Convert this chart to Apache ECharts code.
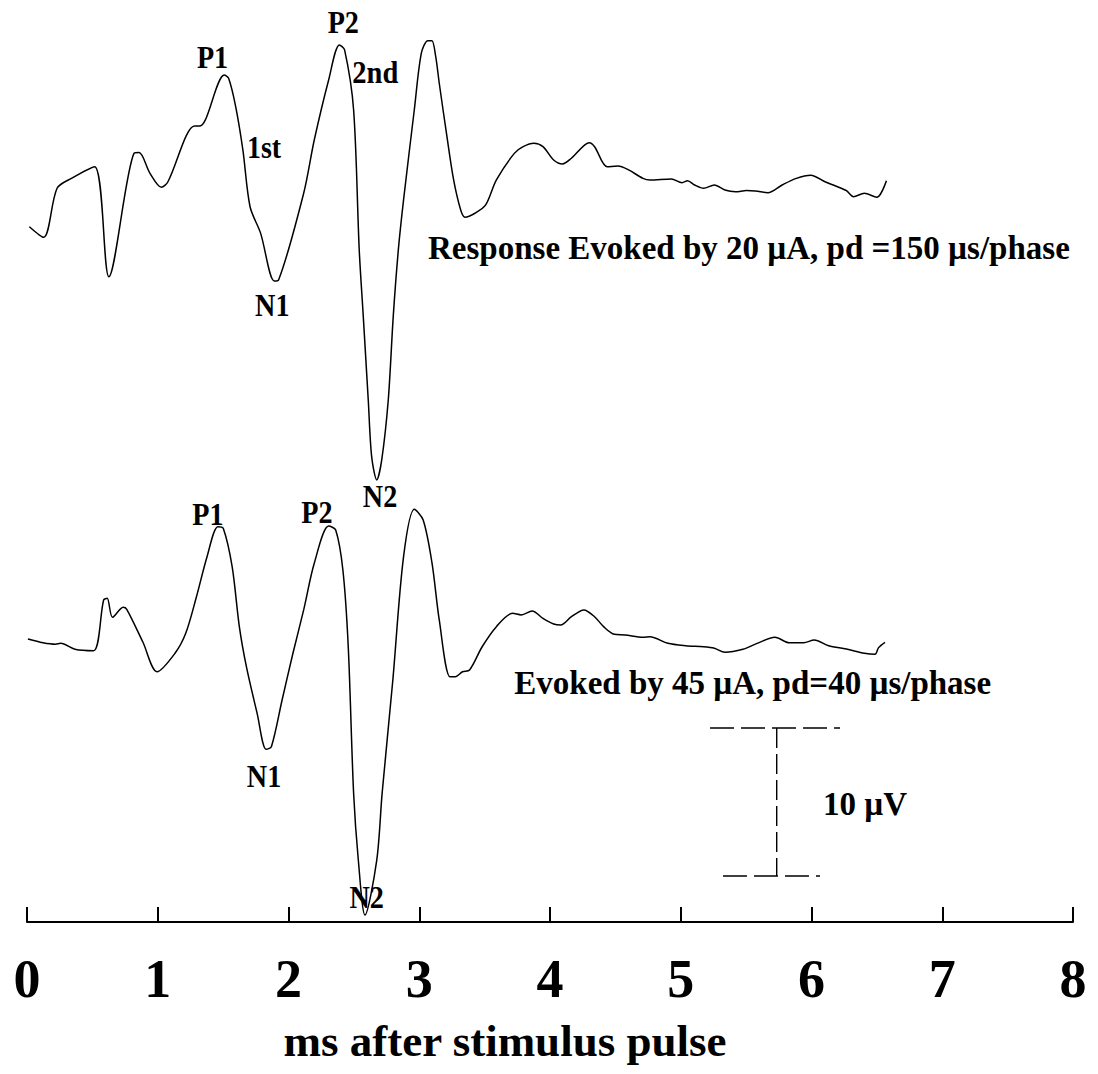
<!DOCTYPE html>
<html>
<head>
<meta charset="utf-8">
<script src="https://cdn.jsdelivr.net/npm/echarts@6/dist/echarts.min.js"></script>
<style>
html,body{margin:0;padding:0;background:#fff;}
#chart{width:1098px;height:1074px;}
</style>
</head>
<body>
<div id="chart"></div>
<script>
// ---- Data (time in ms, amplitude in µV above the time axis) ----
const xTicks = [0, 1, 2, 3, 4, 5, 6, 7, 8];
const xTitle = 'ms after stimulus pulse';

// Response evoked by 20 µA, pd = 150 µs/phase (upper trace)
const topTime = [0.018,0.127,0.230,0.340,0.517,0.626,0.818,0.857,0.941,1.028,1.078,1.282,1.323,1.364,1.509,1.542,1.596,1.651,1.706,1.787,1.891,1.924,2.116,2.197,2.307,2.389,2.429,2.498,2.541,2.572,2.610,2.636,2.675,2.713,2.763,2.801,2.840,2.880,2.962,3.016,3.066,3.097,3.126,3.153,3.208,3.263,3.317,3.350,3.426,3.508,3.590,3.727,3.795,3.877,3.946,4.028,4.096,4.164,4.301,4.341,4.437,4.519,4.601,4.711,4.765,4.928,5.010,5.052,5.106,5.175,5.257,5.338,5.420,5.502,5.571,5.667,5.775,5.884,5.994,6.103,6.185,6.267,6.322,6.404,6.499,6.573];
const topVolt = [47.01,46.29,49.61,50.28,51.07,43.63,51.97,52.02,50.62,49.68,50.05,53.82,53.82,54.23,57.27,57.04,55.13,52.20,48.36,46.56,43.34,43.41,49.27,52.87,56.93,59.30,58.96,54.90,45.44,40.93,35.29,31.46,29.89,31.24,35.29,40.93,45.44,48.82,54.90,58.74,59.59,59.59,58.51,56.71,53.33,50.17,48.14,47.65,47.92,48.48,50.17,51.97,52.42,52.65,52.42,51.52,51.25,51.64,52.69,52.42,51.07,51.11,50.85,50.28,50.17,50.24,49.99,50.12,49.83,49.61,49.83,49.49,49.38,49.45,49.43,49.31,49.83,50.28,50.49,50.05,49.76,49.45,49.04,49.27,49.00,50.12];

// Evoked by 45 µA, pd = 40 µs/phase (lower trace)
const botTime = [0.007,0.122,0.217,0.258,0.367,0.509,0.586,0.613,0.654,0.736,0.763,0.886,0.995,1.132,1.214,1.296,1.377,1.460,1.501,1.569,1.624,1.678,1.760,1.829,1.869,1.951,2.034,2.116,2.197,2.307,2.361,2.416,2.457,2.498,2.534,2.585,2.675,2.716,2.798,2.880,2.962,3.030,3.098,3.153,3.235,3.277,3.331,3.385,3.481,3.590,3.713,3.781,3.863,3.946,4.028,4.082,4.164,4.259,4.341,4.410,4.492,4.574,4.711,4.765,4.902,5.038,5.175,5.257,5.338,5.475,5.584,5.721,5.830,5.940,6.021,6.131,6.267,6.404,6.486,6.513,6.562];
const botVolt = [19.13,18.88,18.78,18.84,18.44,18.34,21.77,21.89,20.60,21.28,21.14,18.93,16.92,18.17,19.52,21.99,24.70,26.73,26.62,24.02,19.97,17.26,14.11,11.68,11.85,15.01,18.17,21.10,24.25,26.77,26.50,23.80,18.61,8.70,4.19,0.47,4.19,8.70,16.36,24.70,27.90,27.18,24.25,20.42,16.59,16.59,16.92,17.04,18.61,19.97,20.87,20.76,21.03,20.53,20.15,20.08,20.64,21.10,20.64,19.97,19.45,19.41,19.25,19.29,18.84,18.68,18.61,18.51,18.24,18.44,18.84,19.25,18.88,18.88,19.07,18.68,18.46,18.17,18.10,18.55,18.91];

// 10 µV calibration bar
const barTopY = 13.12, barBottomY = 3.11;
const barTopX = [5.224, 6.218];
const barBottomX = [5.323, 6.065];
const barX = 5.734;

// Annotation texts and their anchor points (ms, µV)
const labelTexts = ['P1','P2','2nd','1st','N1','N2','P1','P2','N1','N2',
  'Response Evoked by 20 \u00b5A, pd =150 \u00b5s/phase',
  'Evoked by 45 \u00b5A, pd=40 \u00b5s/phase',
  '10 \u00b5V'];
const labelX = [1.419,2.419,2.664,1.813,1.876,2.700,1.384,2.218,1.813,2.598,3.067,3.727,6.088];
const labelY = [58.45,60.82,57.44,52.37,41.72,28.77,27.59,27.69,9.84,1.66,45.57,16.16,7.98];

// ---- Styles ----
const SERIF = '"Liberation Serif","Times New Roman",serif';
const labelStyle = [
  {size:32,sx:0.88,align:'center'},{size:32,sx:0.88,align:'center'},
  {size:31,sx:0.92,align:'center'},{size:31,sx:0.9,align:'center'},
  {size:32,sx:0.88,align:'center'},{size:32,sx:0.88,align:'center'},
  {size:32,sx:0.88,align:'center'},{size:32,sx:0.88,align:'center'},
  {size:32,sx:0.88,align:'center'},{size:32,sx:0.88,align:'center'},
  {size:33,sx:1,align:'left'},{size:33,sx:1,align:'left'},{size:33,sx:1,align:'left'}
];

const zip = (a, b) => a.map((v, i) => [v, b[i]]);

const traceStyle = {color:'#000', width:1.5};
const dashStyle = {color:'#000', width:1.4, type:[24,7]};

const chart = echarts.init(document.getElementById('chart'), null, {renderer:'svg'});
chart.setOption({
  backgroundColor:'#fff',
  animation:false,
  grid:{left:27, right:25, top:5, bottom:152, containLabel:false},
  xAxis:{
    type:'value', min:xTicks[0], max:xTicks[xTicks.length-1], interval:1,
    axisLine:{show:true, lineStyle:{color:'#000', width:2}},
    axisTick:{show:true, inside:true, length:15, lineStyle:{color:'#000', width:2}},
    splitLine:{show:false},
    axisLabel:{show:true, showMinLabel:true, showMaxLabel:true, margin:30,
      fontSize:54, fontWeight:'bold', fontFamily:SERIF, color:'#000'},
    name:xTitle, nameLocation:'middle', nameGap:96,
    nameTextStyle:{fontSize:45, fontWeight:'bold', fontFamily:SERIF, color:'#000', padding:[0,90,0,0]}
  },
  yAxis:{type:'value', min:0, max:62, show:false},
  series:[
    {type:'line', data:zip(topTime, topVolt), symbol:'none', smooth:0.3, lineStyle:traceStyle, silent:true},
    {type:'line', data:zip(botTime, botVolt), symbol:'none', smooth:0.3, lineStyle:traceStyle, silent:true},
    {type:'line', data:[[barTopX[0], barTopY],[barTopX[1], barTopY]], symbol:'none', lineStyle:dashStyle, silent:true},
    {type:'line', data:[[barBottomX[0], barBottomY],[barBottomX[1], barBottomY]], symbol:'none', lineStyle:dashStyle, silent:true},
    {type:'line', data:[[barX, barTopY],[barX, barBottomY]], symbol:'none', lineStyle:{color:'#000', width:1.4, type:[20,6]}, silent:true}
  ]
});

const graphics = labelTexts.map((t, i) => {
  const p = chart.convertToPixel({gridIndex:0}, [labelX[i], labelY[i]]);
  const s = labelStyle[i];
  return {
    type:'text', x:p[0], y:p[1], scaleX:s.sx, silent:true,
    style:{text:t, fontSize:s.size, fontWeight:'bold', fontFamily:SERIF, fill:'#000',
      align:s.align, verticalAlign:'middle'}
  };
});
chart.setOption({graphic:graphics});
</script>
</body>
</html>
